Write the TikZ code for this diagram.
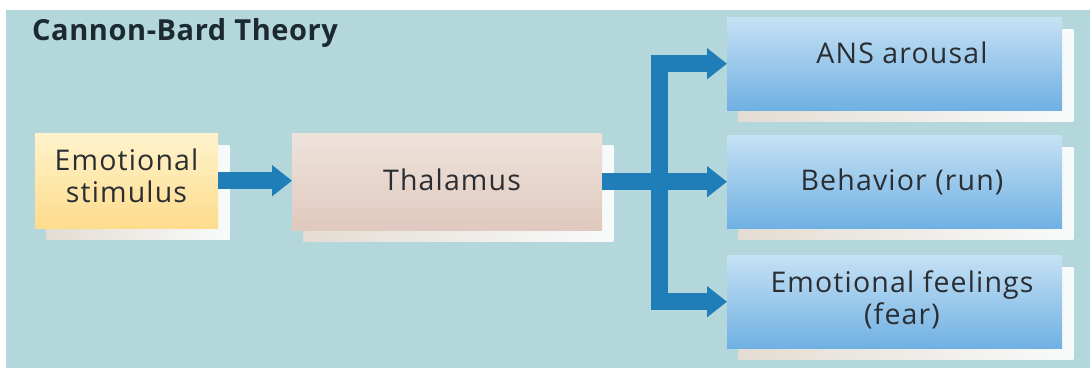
\documentclass[tikz,border=0pt]{standalone}
\usepackage{fontspec}
\setmainfont{Open Sans}
\usetikzlibrary{arrows.meta,calc}
\definecolor{bgteal}{HTML}{B4D7DC}
\definecolor{arrblue}{HTML}{1F7DB8}
\definecolor{txt}{HTML}{2A2E33}
\definecolor{ttl}{HTML}{1C2A30}
\definecolor{yelT}{HTML}{FFF3CC}
\definecolor{yelB}{HTML}{FDDC8C}
\definecolor{pnkT}{HTML}{EEE3DB}
\definecolor{pnkB}{HTML}{E0C9BE}
\definecolor{bluT}{HTML}{C6E1F4}
\definecolor{bluB}{HTML}{6FB0E3}
\definecolor{shdL}{HTML}{E4DCD3}
\definecolor{shdR}{HTML}{F8FBFB}
\pgfdeclarelayer{bgl}
\pgfdeclarelayer{shl}
\pgfsetlayers{bgl,shl,main}
\tikzset{
  box/.style={draw=none, rectangle, inner sep=0pt, anchor=north west},
  yelbox/.style={box, top color=yelT, bottom color=yelB, minimum width=183pt, minimum height=95pt},
  pnkbox/.style={box, top color=pnkT, bottom color=pnkB, minimum width=310pt, minimum height=97pt},
  blubox/.style={box, top color=bluT, bottom color=bluB, minimum width=335pt, minimum height=93pt},
  lbl/.style={inner sep=0pt, text=txt, font=\fontsize{28.5}{32}\selectfont\addfontfeatures{LetterSpace=4}, align=center},
  ttlstyle/.style={inner sep=0pt, text=ttl, font=\fontsize{29}{32}\selectfont\bfseries\addfontfeatures{LetterSpace=2}, anchor=base west},
  arr/.style={draw=arrblue, line width=17pt, line join=miter, -{Triangle[length=20pt,width=30pt]}},
  shadowbox/.style={left color=shdL, right color=shdR}
}
\begin{document}
\begin{tikzpicture}[x=1pt,y=-1pt]
\useasboundingbox (0,0) rectangle (1090,368);
\begin{pgfonlayer}{bgl}
\fill[bgteal] (6,10) rectangle (1090,368);
\end{pgfonlayer}
\node[ttlstyle] (title) at (32,40) {Cannon-Bard Theory};
% boxes
\node[yelbox] (stim) at (35,133) {};
\node[pnkbox] (thal) at (292,133) {};
\node[blubox] (ans) at (727,17) {};
\node[blubox] (beh) at (727,135) {};
\node[blubox] (feel) at (727,255) {};
% shadows
\begin{pgfonlayer}{shl}
\foreach \n in {stim,thal,ans,beh,feel}{
  \fill[shadowbox] ($(\n.north west)+(11,12)$) rectangle ($(\n.south east)+(11,11)$);
}
\end{pgfonlayer}
% labels
\node[lbl, anchor=center] (stimT) at (126.5,176) {Emotional\\stimulus};
\node[lbl, anchor=base] (thalT) at (452,190) {Thalamus};
\node[lbl, anchor=base] (ansT) at (902,63) {ANS arousal};
\node[lbl, anchor=base] (behT) at (902,190) {Behavior (run)};
\node[lbl, anchor=center] (feelT) at (902,300) {Emotional feelings\\(fear)};
% connectors
\coordinate (j) at ($(thal.east)+(57,0)$);
\draw[arr] (stim.east) -- (stim.east -| thal.west);
\draw[arr] (j) |- (ans.west);
\draw[arr] (j) |- (feel.west);
\draw[arr] (thal.east) -- (beh.west);
\end{tikzpicture}
\end{document}
